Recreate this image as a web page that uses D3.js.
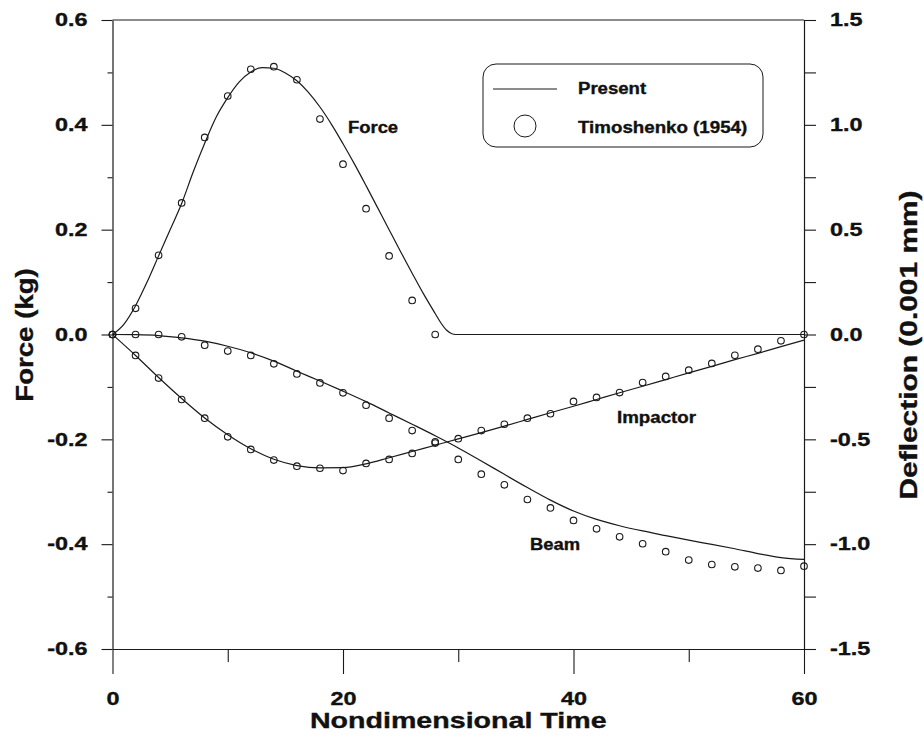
<!DOCTYPE html>
<html>
<head>
<meta charset="utf-8">
<script src="https://cdn.jsdelivr.net/npm/d3@7"></script>
<style>
  html, body { margin: 0; padding: 0; background: #fff; }
  svg { display: block; }
  text { font-family: "Liberation Sans", Arial, Helvetica, sans-serif; font-weight: bold; fill: #111; stroke: #111; stroke-width: 0.35px; }
</style>
</head>
<body>
<svg id="chart" width="924" height="740"></svg>
<script>
// ---------------- data ----------------
// "Present" solution (solid lines)
const forceT    = [0, 1, 2, 3, 4, 5, 6, 7, 8, 9, 10, 11, 12, 13, 14, 15, 16, 17, 18, 19, 20, 21, 22, 23, 24, 25, 26, 27, 28, 28.5, 29, 29.5, 30, 40, 50, 60];
const forceLine = [0, 0.02, 0.055, 0.10, 0.15, 0.20, 0.25, 0.31, 0.365, 0.415, 0.452, 0.482, 0.501, 0.509, 0.508, 0.499, 0.484, 0.462, 0.434, 0.401, 0.364, 0.325, 0.284, 0.242, 0.200, 0.158, 0.117, 0.077, 0.040, 0.022, 0.008, 0.001, 0, 0, 0, 0];

const defT          = [0, 2, 4, 6, 8, 10, 12, 14, 16, 18, 20, 22, 24, 26, 28, 30, 32, 34, 36, 38, 40, 42, 44, 46, 48, 50, 52, 54, 56, 58, 60];
const impactorLine  = [0, -0.10, -0.205, -0.305, -0.398, -0.478, -0.545, -0.595, -0.625, -0.636, -0.635, -0.617, -0.588, -0.558, -0.528, -0.498, -0.468, -0.437, -0.405, -0.373, -0.342, -0.310, -0.278, -0.247, -0.215, -0.183, -0.152, -0.120, -0.090, -0.058, -0.027];
const beamLine      = [0, -0.001, -0.005, -0.016, -0.032, -0.056, -0.087, -0.127, -0.175, -0.222, -0.270, -0.320, -0.374, -0.428, -0.483, -0.541, -0.603, -0.667, -0.730, -0.790, -0.842, -0.882, -0.912, -0.937, -0.959, -0.981, -1.001, -1.022, -1.045, -1.064, -1.073];

// Timoshenko (1954) (circles)
const forcePtsT     = [0, 2, 4, 6, 8, 10, 12, 14, 16, 18, 20, 22, 24, 26, 28];
const forcePts      = [0, 0.05, 0.151, 0.251, 0.376, 0.455, 0.506, 0.511, 0.486, 0.411, 0.325, 0.24, 0.15, 0.065, 0];
const impactorPts   = [0, -0.10, -0.208, -0.310, -0.399, -0.488, -0.548, -0.599, -0.628, -0.638, -0.649, -0.615, -0.596, -0.567, -0.518, -0.497, -0.458, -0.428, -0.399, -0.378, -0.319, -0.300, -0.277, -0.229, -0.200, -0.170, -0.138, -0.099, -0.070, -0.030, 0];
const beamPts       = [0, 0, 0, -0.011, -0.051, -0.079, -0.100, -0.140, -0.188, -0.231, -0.278, -0.337, -0.399, -0.458, -0.512, -0.596, -0.666, -0.717, -0.787, -0.827, -0.887, -0.927, -0.965, -0.998, -1.036, -1.076, -1.097, -1.108, -1.114, -1.125, -1.105];

// axes ticks
const xMajorTicks = [0, 20, 40, 60];
const xMinorTicks = [10, 30, 50];
const forceMajorTicks = [-0.6, -0.4, -0.2, 0.0, 0.2, 0.4, 0.6];
const forceMinorTicks = [-0.5, -0.3, -0.1, 0.1, 0.3, 0.5];
const deflMajorTicks = [-1.5, -1.0, -0.5, 0.0, 0.5, 1.0, 1.5];
const deflMinorTicks = [-1.25, -0.75, -0.25, 0.25, 0.75, 1.25];

const xTitle = "Nondimensional Time";
const yLeftTitle = "Force (kg)";
const yRightTitle = "Deflection (0.001 mm)";
const legendLabels = ["Present", "Timoshenko (1954)"];
const curveLabels = ["Force", "Impactor", "Beam"];

// ---------------- layout ----------------
const L = 112.5, R = 804, T = 20, B = 649;
const svg = d3.select("#chart");
svg.append("rect").attr("width", 924).attr("height", 740).attr("fill", "#fff");

const x = d3.scaleLinear().domain([0, 60]).range([L, R]);
const yF = d3.scaleLinear().domain([-0.6, 0.6]).range([B, T]);
const yD = d3.scaleLinear().domain([-1.5, 1.5]).range([B, T]);

function stretch(sel, f) {
  sel.each(function () {
    const w = this.getComputedTextLength();
    d3.select(this).attr("textLength", w * f).attr("lengthAdjust", "spacingAndGlyphs");
  });
}
const fmt = d => d.toFixed(1);
const ink = "#1a1a1a";

// frame top
svg.append("line").attr("x1", L).attr("x2", R).attr("y1", T).attr("y2", T)
  .attr("stroke", ink).attr("stroke-width", 1);

// left axis
const gl = svg.append("g").attr("transform", `translate(${L},0)`);
gl.call(d3.axisLeft(yF).tickValues(forceMajorTicks).tickSize(11).tickSizeOuter(0).tickPadding(14).tickFormat(fmt));
const glm = svg.append("g").attr("transform", `translate(${L},0)`);
glm.call(d3.axisLeft(yF).tickValues(forceMinorTicks).tickSize(5).tickFormat(""));
glm.select(".domain").remove();

// right axis
const gr = svg.append("g").attr("transform", `translate(${R},0)`);
gr.call(d3.axisRight(yD).tickValues(deflMajorTicks).tickSize(12).tickSizeOuter(0).tickPadding(14).tickFormat(fmt));
const grm = svg.append("g").attr("transform", `translate(${R},0)`);
grm.call(d3.axisRight(yD).tickValues(deflMinorTicks).tickSize(12).tickFormat(""));
grm.select(".domain").remove();

// bottom axis
const gb = svg.append("g").attr("transform", `translate(0,${B})`);
gb.call(d3.axisBottom(x).tickValues(xMajorTicks).tickSize(25).tickSizeOuter(0).tickPadding(18).tickFormat(d3.format("d")));
const gbm = svg.append("g").attr("transform", `translate(0,${B})`);
gbm.call(d3.axisBottom(x).tickValues(xMinorTicks).tickSize(13).tickFormat(""));
gbm.select(".domain").remove();

svg.selectAll(".domain").attr("stroke", ink).attr("stroke-width", 1.2);
svg.selectAll(".tick line").attr("stroke", ink).attr("stroke-width", 1.1);
svg.selectAll(".tick text")
  .attr("font-family", '"Liberation Sans", Arial, sans-serif')
  .attr("font-weight", "bold").attr("font-size", 18).attr("fill", "#111");
svg.selectAll(".tick text").call(stretch, 1.3);

// titles
svg.append("text").attr("x", (L + R) / 2).attr("y", 728).attr("text-anchor", "middle")
  .attr("font-size", 22).text(xTitle).call(stretch, 1.3);
svg.append("text").attr("transform", "translate(33,335) rotate(-90)").attr("text-anchor", "middle")
  .attr("font-size", 23).text(yLeftTitle).call(stretch, 1.2);
svg.append("text").attr("transform", "translate(917,345) rotate(-90)").attr("text-anchor", "middle")
  .attr("font-size", 23).text(yRightTitle).call(stretch, 1.3);

// lines
const lineF = d3.line().x(d => x(d[0])).y(d => yF(d[1])).curve(d3.curveMonotoneX);
const lineD = d3.line().x(d => x(d[0])).y(d => yD(d[1])).curve(d3.curveMonotoneX);
const plot = svg.append("g");
plot.append("path").datum(forceT.map((t, i) => [t, forceLine[i]]))
  .attr("d", lineF).attr("fill", "none").attr("stroke", ink).attr("stroke-width", 1.2);
plot.append("path").datum(defT.map((t, i) => [t, impactorLine[i]]))
  .attr("d", lineD).attr("fill", "none").attr("stroke", ink).attr("stroke-width", 1.2);
plot.append("path").datum(defT.map((t, i) => [t, beamLine[i]]))
  .attr("d", lineD).attr("fill", "none").attr("stroke", ink).attr("stroke-width", 1.2);

// circles
const circ = (data, yScale) => plot.append("g").selectAll("circle").data(data).join("circle")
  .attr("cx", d => x(d[0])).attr("cy", d => yScale(d[1])).attr("r", 3.3)
  .attr("fill", "none").attr("stroke", ink).attr("stroke-width", 1.1);
circ(forcePtsT.map((t, i) => [t, forcePts[i]]), yF);
circ(defT.map((t, i) => [t, impactorPts[i]]), yD);
circ(defT.map((t, i) => [t, beamPts[i]]), yD);

// curve labels
svg.append("text").attr("x", 348).attr("y", 133).attr("font-size", 16).text(curveLabels[0]).call(stretch, 1.15);
svg.append("text").attr("x", 617).attr("y", 423).attr("font-size", 16).text(curveLabels[1]).call(stretch, 1.17);
svg.append("text").attr("x", 530).attr("y", 550).attr("font-size", 16).text(curveLabels[2]).call(stretch, 1.15);

// legend
const lg = svg.append("g");
lg.append("rect").attr("x", 483).attr("y", 64).attr("width", 280).attr("height", 83).attr("rx", 13)
  .attr("fill", "#fff").attr("stroke", ink).attr("stroke-width", 1);
lg.append("line").attr("x1", 493).attr("x2", 557).attr("y1", 89).attr("y2", 89)
  .attr("stroke", ink).attr("stroke-width", 1.2);
lg.append("circle").attr("cx", 525).attr("cy", 126).attr("r", 11)
  .attr("fill", "none").attr("stroke", ink).attr("stroke-width", 1);
lg.append("text").attr("x", 578).attr("y", 94).attr("font-size", 16).text(legendLabels[0]).call(stretch, 1.16);
lg.append("text").attr("x", 578).attr("y", 133).attr("font-size", 16).text(legendLabels[1]).call(stretch, 1.17);
</script>
</body>
</html>
